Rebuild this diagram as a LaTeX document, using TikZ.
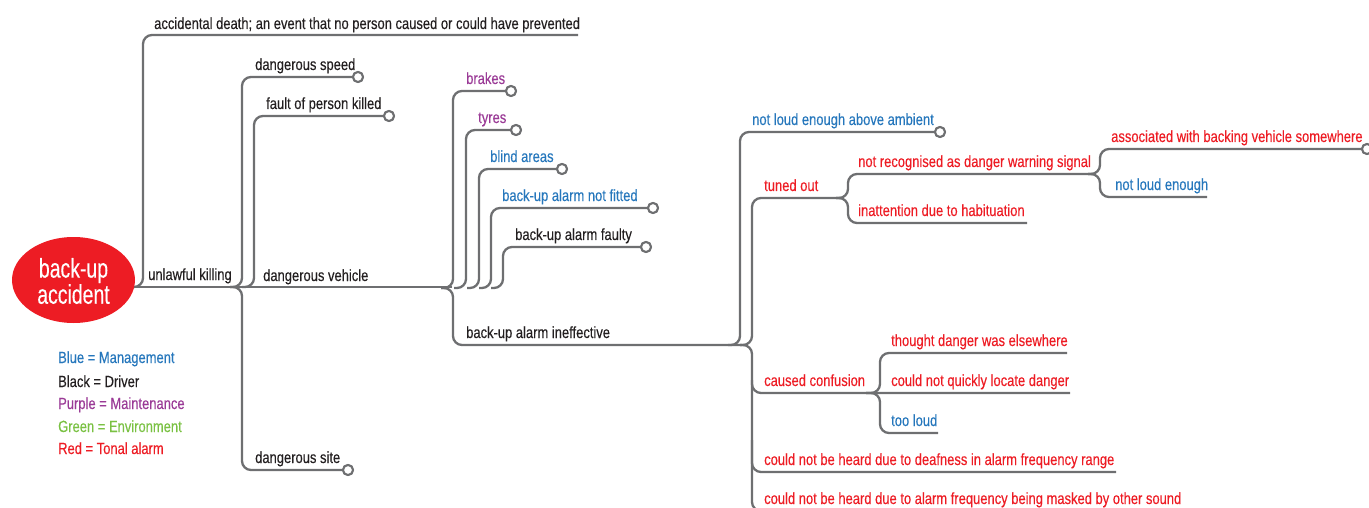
\documentclass[tikz,border=0pt]{standalone}
\usepackage{fontspec}
\usetikzlibrary{shapes.geometric}
\setmainfont{Liberation Sans}[FakeStretch=0.8,FakeBold=0.3]
\definecolor{lgray}{HTML}{6E6F71}
\definecolor{cblue}{HTML}{2677BC}
\definecolor{cblack}{HTML}{231F20}
\definecolor{cpurple}{HTML}{9A3A96}
\definecolor{cgreen}{HTML}{7AC143}
\definecolor{cred}{HTML}{ED1C24}
\begin{document}
\begin{tikzpicture}[x=1pt,y=-1pt,
  ln/.style={draw=lgray,line width=2.3pt,rounded corners=9pt},
  endc/.style={circle,draw=lgray,line width=2pt,fill=white,inner sep=0pt,minimum size=10pt},
  lbl/.style={anchor=base west,inner sep=0pt,font=\fontsize{16.2}{18}\selectfont,text=cblack},
  bl/.style={lbl,text=cblue},
  pu/.style={lbl,text=cpurple},
  rd/.style={lbl,text=cred},
  gr/.style={lbl,text=cgreen}]
\useasboundingbox (0,0) rectangle (1369,508);
% ---- junction/end coordinates
\coordinate (r0) at (128,287);
\coordinate (j1) at (230,287);
\coordinate (j1b) at (242,287);
\coordinate (j2) at (441,288);
\coordinate (j3) at (728,345);
\coordinate (j3b) at (740,345);
\coordinate (j4) at (836,198);
\coordinate (j5) at (1088,174);
\coordinate (j6) at (866,393);
\coordinate (accE) at (578,35);
\coordinate (trunkE) at (452,287);
\coordinate (ineffE) at (742,345);
\coordinate (tunedE) at (842,198);
\coordinate (recogE) at (1094,174);
\coordinate (inattE) at (1027,223);
\coordinate (loudE) at (1207,197);
\coordinate (confE) at (1070,393);
\coordinate (thoughtE) at (1067,353);
\coordinate (tooE) at (938,433);
\coordinate (deafE) at (1116,472);
\coordinate (maskE) at (1200,511);
% ---- end circles
\node[endc] (speedC) at (358,77) {};
\node[endc] (faultC) at (389,116) {};
\node[endc] (siteC) at (348,470) {};
\node[endc] (brakesC) at (511,91) {};
\node[endc] (tyresC) at (516,130) {};
\node[endc] (blindC) at (562,169) {};
\node[endc] (fittedC) at (653,208) {};
\node[endc] (faultyC) at (646,247) {};
\node[endc] (ambC) at (940,132) {};
\node[endc] (assocC) at (1367,149) {};
% ---- connectors
\draw[ln] (r0) -| (143,35) -- (accE);
\draw[ln] (r0) -- (trunkE);
\draw[ln] (j1) -| (242,77) -- (speedC.west);
\draw[ln] (j1b) -| (254,116) -- (faultC.west);
\draw[ln] (j1) -| (242,470) -- (siteC.west);
\draw[ln] (j2) -| (453,91) -- (brakesC.west);
\draw[ln] (454,288) -| (466,130) -- (tyresC.west);
\draw[ln] (467,288) -| (479,169) -- (blindC.west);
\draw[ln] (479,288) -| (491,208) -- (fittedC.west);
\draw[ln] (491,288) -| (503,247) -- (faultyC.west);
\draw[ln] (j2) -| (453,345) -- (ineffE);
\draw[ln] (j3) -| (740,132) -- (ambC.west);
\draw[ln] (j3b) -| (752,198) -- (tunedE);
\draw[ln] (j3b) -| (752,393) -- (confE);
\draw[ln] (752,380) |- (deafE);
\draw[ln] (752,440) |- (maskE);
\draw[ln] (j4) -| (848,174) -- (recogE);
\draw[ln] (j4) -| (848,223) -- (inattE);
\draw[ln] (j5) -| (1100,149) -- (assocC.west);
\draw[ln] (j5) -| (1100,197) -- (loudE);
\draw[ln] (j6) -| (880,353) -- (thoughtE);
\draw[ln] (j6) -| (880,433) -- (tooE);
% redraw circles on top
\foreach \c in {speedC,faultC,siteC,brakesC,tyresC,blindC,fittedC,faultyC,ambC,assocC}
  \node[endc] at (\c) {};
% ---- root
\node[ellipse,fill=cred,minimum width=123pt,minimum height=86pt,inner sep=0pt] (root) at (73.5,280) {};
\node[text=white,align=center,font=\fontsize{27}{23}\selectfont,inner sep=0pt] (rootT) at (73.5,281) {\addfontfeature{FakeStretch=0.72}back-up\\\addfontfeature{FakeStretch=0.72}accident};
% ---- labels
\node[lbl] (acc) at (154,29) {accidental death; an event that no person caused or could have prevented};
\node[lbl] (speed) at (255,70) {dangerous speed};
\node[lbl] (fault) at (266,109) {fault of person killed};
\node[lbl] (unlaw) at (148,280) {unlawful killing};
\node[lbl] (veh) at (263,281) {dangerous vehicle};
\node[lbl] (site) at (255,463) {dangerous site};
\node[pu] (brakes) at (466,84) {brakes};
\node[pu] (tyres) at (478,123) {tyres};
\node[bl] (blind) at (490,162) {blind areas};
\node[bl] (fitted) at (502,201) {back-up alarm not fitted};
\node[lbl] (faulty) at (515,240) {back-up alarm faulty};
\node[lbl] (ineff) at (466,338) {back-up alarm ineffective};
\node[bl] (amb) at (752,125) {not loud enough above ambient};
\node[rd] (tuned) at (764,191) {tuned out};
\node[rd] (recog) at (858,167) {not recognised as danger warning signal};
\node[rd] (inatt) at (858,216) {inattention due to habituation};
\node[rd] (assoc) at (1111,142) {associated with backing vehicle somewhere};
\node[bl] (loud) at (1115,190) {not loud enough};
\node[rd] (conf) at (764,386) {caused confusion};
\node[rd] (thought) at (891,346) {thought danger was elsewhere};
\node[rd] (quick) at (891,386) {could not quickly locate danger};
\node[bl] (too) at (891,426) {too loud};
\node[rd] (deaf) at (764,465) {could not be heard due to deafness in alarm frequency range};
\node[rd] (mask) at (764,504) {could not be heard due to alarm frequency being masked by other sound};
% ---- legend
\node[bl] (lg1) at (58,363) {Blue = Management};
\node[lbl] (lg2) at (58,387) {Black = Driver};
\node[pu] (lg3) at (58,409) {Purple = Maintenance};
\node[gr] (lg4) at (58,432) {Green = Environment};
\node[rd] (lg5) at (58,454) {Red = Tonal alarm};
\end{tikzpicture}
\end{document}
